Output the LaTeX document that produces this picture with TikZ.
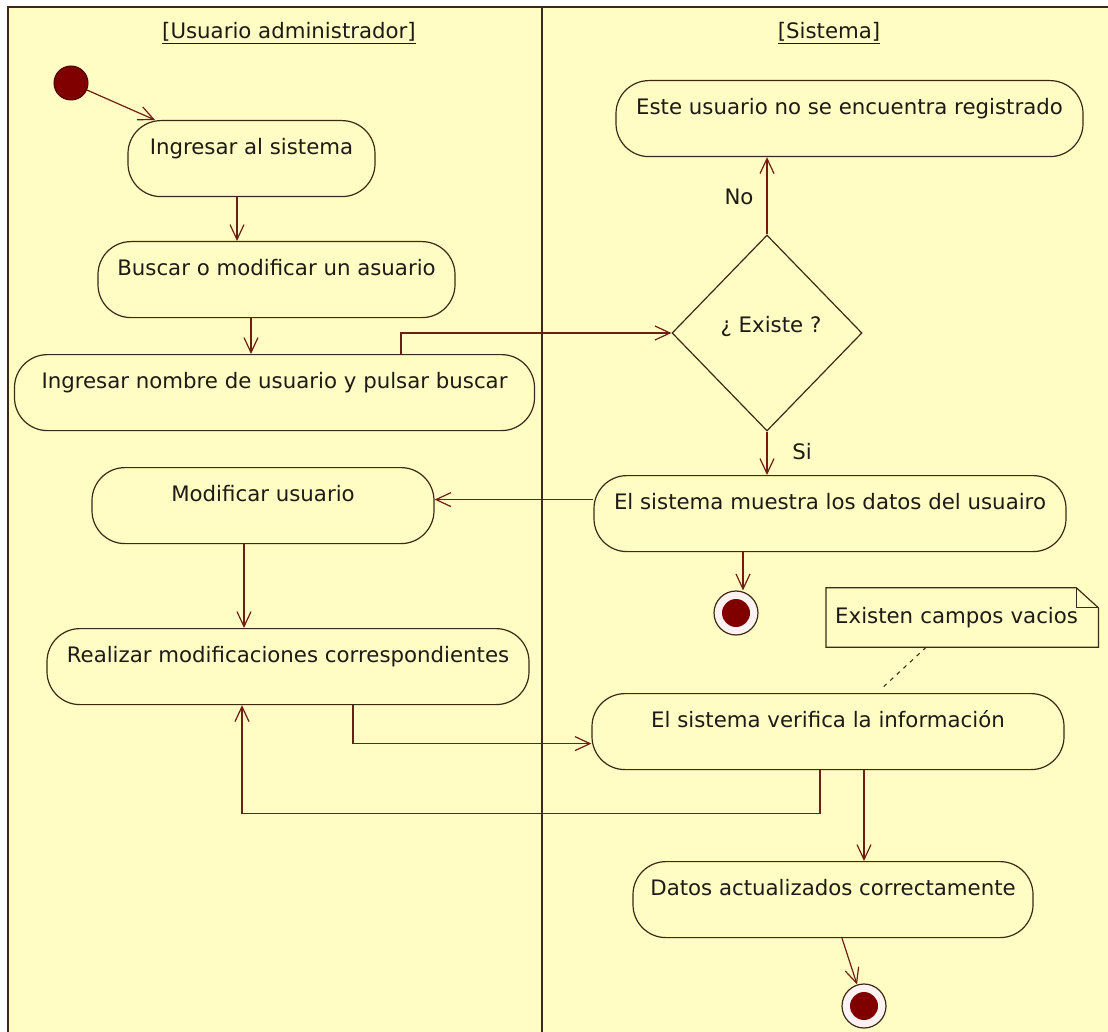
\documentclass[tikz,border=0pt]{standalone}
\usepackage{fontspec}
\setmainfont{DejaVu Sans}
\usetikzlibrary{arrows.meta,shapes.geometric,calc}
\definecolor{paper}{RGB}{255,253,196}
\definecolor{wire}{RGB}{110,30,18}
\definecolor{edge}{RGB}{62,40,22}
\definecolor{ink}{RGB}{30,26,22}
\definecolor{dot}{RGB}{128,0,0}
\definecolor{ring}{RGB}{255,242,242}
\begin{document}
\begin{tikzpicture}[x=1pt,y=-1pt,
  txt/.style={font=\fontsize{21.3pt}{25pt}\selectfont, text=ink},
  act/.style={txt, draw=edge, line width=1.2pt, rounded corners=33pt, anchor=north,
     text height=20pt, text depth=29pt, inner ysep=13.5pt, inner xsep=0pt},
  flow/.style={draw=wire, line width=1.2pt},
  arr/.style={flow, -{Straight Barb[length=15pt,width=14pt,line width=1.2pt]}},
  initnode/.style={circle, fill=dot, draw=dot!60!black, line width=1pt, minimum size=34pt, inner sep=0pt},
  endnode/.style={circle, fill=ring, draw=edge, line width=1.2pt, minimum size=44pt, inner sep=0pt,
     path picture={\fill[dot] (path picture bounding box.center) circle (14pt);}},
  lane/.style={draw=edge, line width=1.3pt},
]
% page and swimlane frame
\useasboundingbox (0,0) rectangle (1108,1032);
\fill[white] (0,0) rectangle (1108,1032);
\fill[paper] (8,7) rectangle (1108,1032);
\draw[lane] (8,1032) -- (8,7) -- (1108,7);
\draw[lane] (542,7) -- (542,1032);

% lane titles
\node[txt] (laneA) at (289,33) {\underline{[Usuario administrador]}};
\node[txt] (laneB) at (829,33) {\underline{[Sistema]}};

% activities, left lane
\node[initnode] (ini) at (71,83) {};
\node[act, minimum width=247pt] (ing) at (251.5,120) {Ingresar al sistema};
\node[act, minimum width=357pt] (bus) at (276.5,241) {Buscar o modificar un asuario};
\node[act, minimum width=520pt] (nom) at (274.5,354) {Ingresar nombre de usuario y pulsar buscar};
\node[act, minimum width=342pt] (mod) at (263,467) {Modificar usuario};
\node[act, minimum width=482pt] (rea) at (288,628) {Realizar modificaciones correspondientes};

% activities, right lane
\node[act, minimum width=467pt] (reg) at (849.5,80) {Este usuario no se encuentra registrado};
\node[diamond, draw=edge, line width=1.2pt, minimum width=190pt, minimum height=196pt, inner sep=0pt] (exi) at (767,333) {};
\node[txt] (exiq) at (771,326) {¿ Existe ?};
\node[act, minimum width=472pt] (mue) at (830,475) {El sistema muestra los datos del usuairo};
\node[endnode] (fin1) at (736,613) {};
\node[act, minimum width=472pt] (ver) at (828,693) {El sistema verifica la información};
\node[act, minimum width=400pt] (dat) at (833,861) {Datos actualizados correctamente};
\node[endnode] (fin2) at (864,1006) {};

% note with folded corner
\node[txt, anchor=west, text width=254pt, inner xsep=9pt, align=left, minimum height=59pt] (note) at (826,617.5) {Existen campos vacios};
\draw[edge, line width=1.2pt] (note.north west) -- ([xshift=-22pt]note.north east) -- ([yshift=-20pt]note.north east) -- (note.south east) -- (note.south west) -- cycle;
\draw[edge, line width=1.2pt] ([xshift=-22pt]note.north east) |- ([yshift=-20pt]note.north east);
\draw[edge, line width=1.1pt, dash pattern=on 4pt off 5pt] ([xshift=-36pt]note.south) -- ([xshift=52pt,yshift=3pt]ver.north);

% control flow
\draw[arr] (ini) -- ([xshift=-96.5pt]ing.north);
\draw[arr] ([xshift=-14.5pt]ing.south) -- ([xshift=-14.5pt]ing.south |- bus.north);
\draw[arr] ([xshift=-25.5pt]bus.south) -- ([xshift=-25.5pt]bus.south |- nom.north);
\draw[arr] ([xshift=126.5pt]nom.north) |- (exi.west);
\draw[arr] (exi.north) -- (exi.north |- reg.south);
\node[txt] (no) at (739,197) {No};
\draw[arr] (exi.south) -- (exi.south |- mue.north);
\node[txt] (si) at (802,452) {Si};
\coordinate (m1) at ([yshift=14pt]mue.west);
\draw[arr] (m1) -- (m1 -| mod.east);
\coordinate (m2) at ([xshift=-87pt]mue.south);
\draw[arr] (m2) -- (m2 |- fin1.north);
\draw[arr] ([xshift=-19pt]mod.south) -- ([xshift=-19pt]mod.south |- rea.north);
\coordinate (r1) at ([xshift=65pt]rea.south);
\draw[arr] (r1) |- ([yshift=-12pt]ver.west);
\coordinate (v1) at ([xshift=-8pt]ver.south);
\draw[arr] (v1) -- ++(0,43) -| ([xshift=-46pt]rea.south);
\draw[arr] ([xshift=36pt]ver.south) -- ([xshift=36pt]ver.south |- dat.north);
\draw[arr] ([xshift=9pt]dat.south) -- (fin2);
\end{tikzpicture}
\end{document}
